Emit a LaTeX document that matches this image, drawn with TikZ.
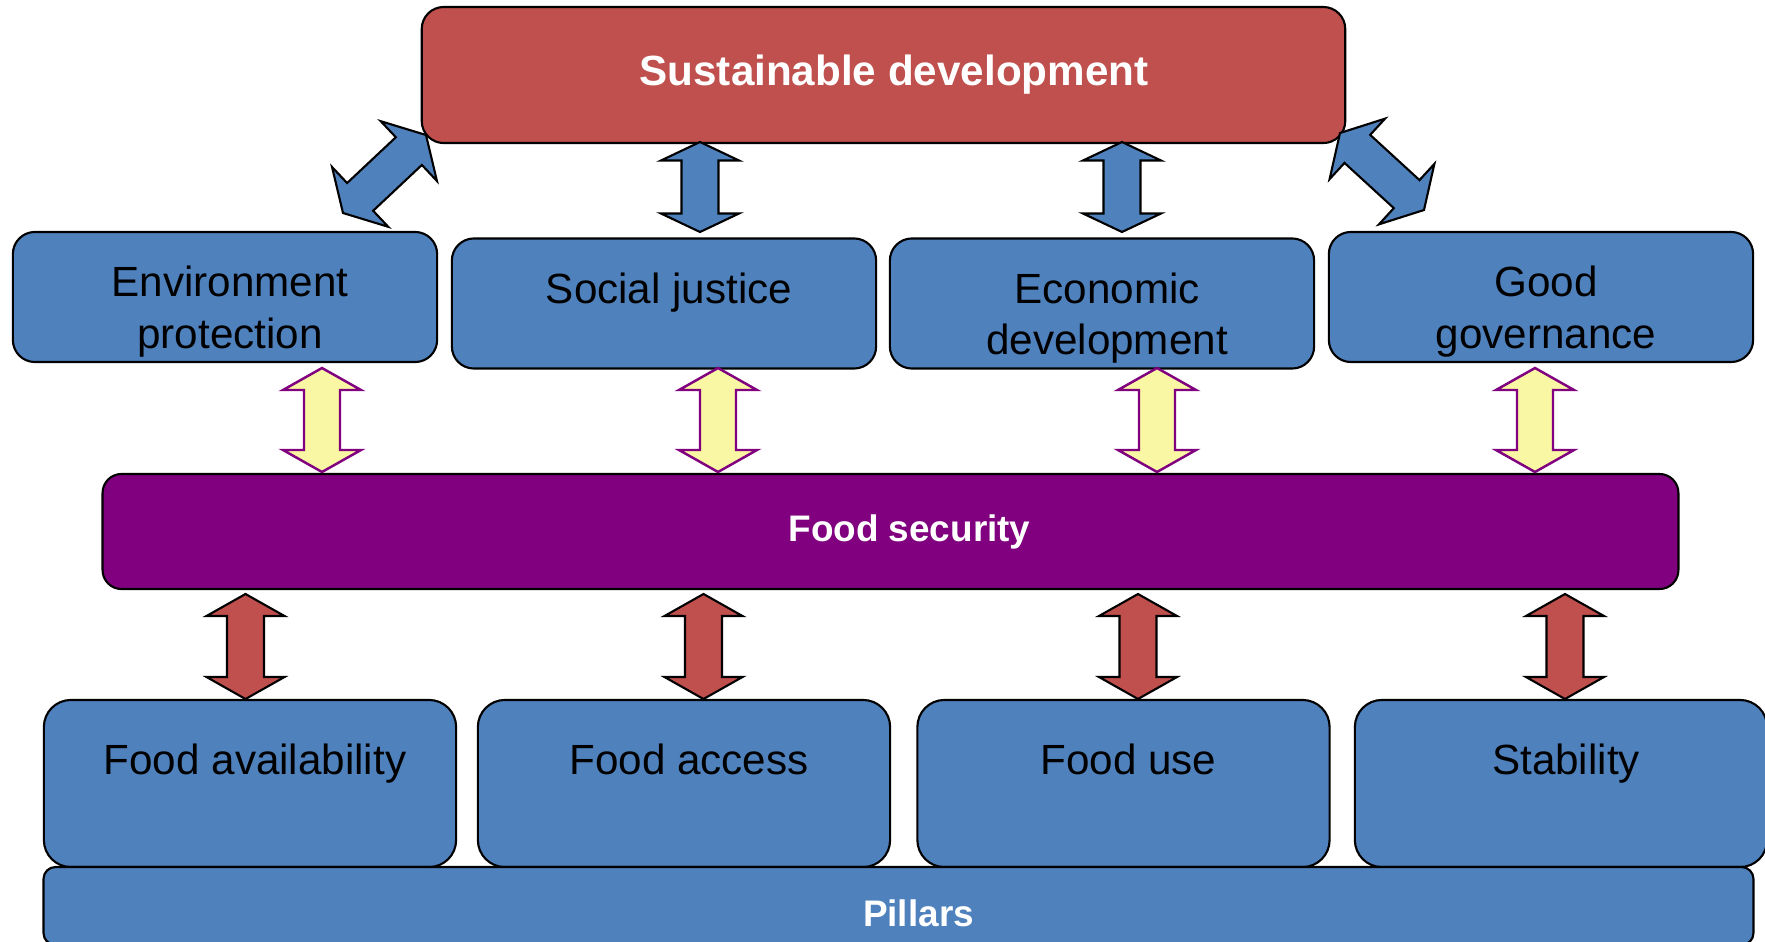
\documentclass[tikz,border=0pt]{standalone}
\usepackage{fontspec}
\setmainfont{Liberation Sans}
\usetikzlibrary{calc}

\definecolor{boxblue}{HTML}{4F81BD}
\definecolor{goalred}{HTML}{C0504D}
\definecolor{fspurple}{HTML}{800080}
\definecolor{linkyellow}{HTML}{F9F7A3}

\tikzset{
  box/.style={draw=black, line width=0.6pt, fill=boxblue, rounded corners=#1, inner sep=0pt},
  box/.default=0.22cm,
  lbl/.style={font=\fontsize{12}{14.7}\selectfont, align=center, inner sep=0pt, anchor=north},
  boldlbl/.style={font=\bfseries\fontsize{10.5}{12}\selectfont, text=white},
  blink/.style={draw=black, line width=0.6pt, fill=boxblue, line join=miter},
  rlink/.style={draw=black, line width=0.6pt, fill=goalred, line join=miter},
  ylink/.style={draw=fspurple, line width=0.7pt, fill=linkyellow, line join=miter}
}

% two-headed block arrow: style, from, to, head length, head half width, shaft half width
\newcommand{\twoway}[6]{%
  \draw[#1] (#2)
    -- ($(#2)!#4!(#3)!#5!90:(#3)$) -- ($(#2)!#4!(#3)!#6!90:(#3)$)
    -- ($(#3)!#4!(#2)!#6!-90:(#2)$) -- ($(#3)!#4!(#2)!#5!-90:(#2)$)
    -- (#3)
    -- ($(#3)!#4!(#2)!#5!90:(#2)$) -- ($(#3)!#4!(#2)!#6!90:(#2)$)
    -- ($(#2)!#4!(#3)!#6!-90:(#3)$) -- ($(#2)!#4!(#3)!#5!-90:(#3)$)
    -- cycle;}

\begin{document}
\begin{tikzpicture}[x=0.01cm, y=-0.01cm]
  % 1 unit = 1 pixel of the 1765 x 942 frame, y pointing down
  \useasboundingbox (0,0) rectangle (1765,942);

  % Top goal
  \node[box, fill=goalred, minimum width=9.23cm, minimum height=1.36cm] (sd) at (883.5,75) {};
  \node[font=\bfseries\fontsize{12}{14}\selectfont, text=white, inner sep=0pt] (sdT) at (894,75) {Sustainable development};

  % Dimensions of sustainable development
  \foreach \nm/\cx/\cy in {env/225/297, soc/664/303.5, eco/1102/303.5, gov/1541/297} {
    \node[box, minimum width=4.24cm, minimum height=1.30cm] (\nm) at (\cx,\cy) {};
  }
  \node[lbl] (envT) at ([xshift=0.05cm, yshift=-0.345cm]env.north) {Environment\\protection};
  \node[lbl] (socT) at ([xshift=0.05cm, yshift=-0.345cm]soc.north) {Social justice};
  \node[lbl] (ecoT) at ([xshift=0.05cm, yshift=-0.345cm]eco.north) {Economic\\development};
  \node[lbl] (govT) at ([xshift=0.05cm, yshift=-0.345cm]gov.north) {Good\\governance};

  % Food security band
  \node[box=0.19cm, fill=fspurple, minimum width=15.75cm, minimum height=1.15cm] (fs) at (890.5,531.5) {};
  \node[boldlbl, inner sep=0pt] (fsT) at (909.5,531.5) {Food security};

  % Pillars
  \foreach \nm/\cx in {avail/250, acc/684, use/1123.5, stab/1561} {
    \node[box=0.27cm, minimum width=4.12cm, minimum height=1.67cm] (\nm) at (\cx,783.5) {};
  }
  \node[lbl] (availT) at ([xshift=0.05cm, yshift=-0.44cm]avail.north) {Food availability};
  \node[lbl] (accT) at ([xshift=0.05cm, yshift=-0.44cm]acc.north) {Food access};
  \node[lbl] (useT) at ([xshift=0.05cm, yshift=-0.44cm]use.north) {Food use};
  \node[lbl] (stabT) at ([xshift=0.05cm, yshift=-0.44cm]stab.north) {Stability};

  \node[box=0.12cm, minimum width=17.09cm, minimum height=0.78cm] (pil) at (898.5,906) {};
  \node[boldlbl, inner sep=0pt] (pilT) at (918.5,913) {Pillars};

  % Blue links: goal <-> dimensions
  \coordinate (envA) at (343,213);  \coordinate (envB) at (426,135);
  \coordinate (govA) at (1340,133); \coordinate (govB) at (1424,210);
  \twoway{blink}{envA}{envB}{0.235cm}{0.41cm}{0.19cm}
  \twoway{blink}{govA}{govB}{0.235cm}{0.41cm}{0.19cm}
  \foreach \xx/\nm in {700/soc, 1122/eco} {
    \coordinate (bt\nm) at (\xx,142);
    \coordinate (bb\nm) at (\xx,232);
    \twoway{blink}{bt\nm}{bb\nm}{0.185cm}{0.39cm}{0.185cm}
  }

  % Yellow links: dimensions <-> food security
  \foreach \xx/\nm in {322/env, 718/soc, 1157/eco, 1535/gov} {
    \coordinate (yt\nm) at (\xx,368);
    \coordinate (yb\nm) at (\xx,472);
    \twoway{ylink}{yt\nm}{yb\nm}{0.22cm}{0.39cm}{0.18cm}
  }

  % Red links: food security <-> pillars
  \foreach \xx/\nm in {245.5/avail, 703.5/acc, 1138/use, 1565/stab} {
    \coordinate (rt\nm) at (\xx,594);
    \coordinate (rb\nm) at (\xx,699);
    \twoway{rlink}{rt\nm}{rb\nm}{0.22cm}{0.39cm}{0.185cm}
  }
\end{tikzpicture}
\end{document}
